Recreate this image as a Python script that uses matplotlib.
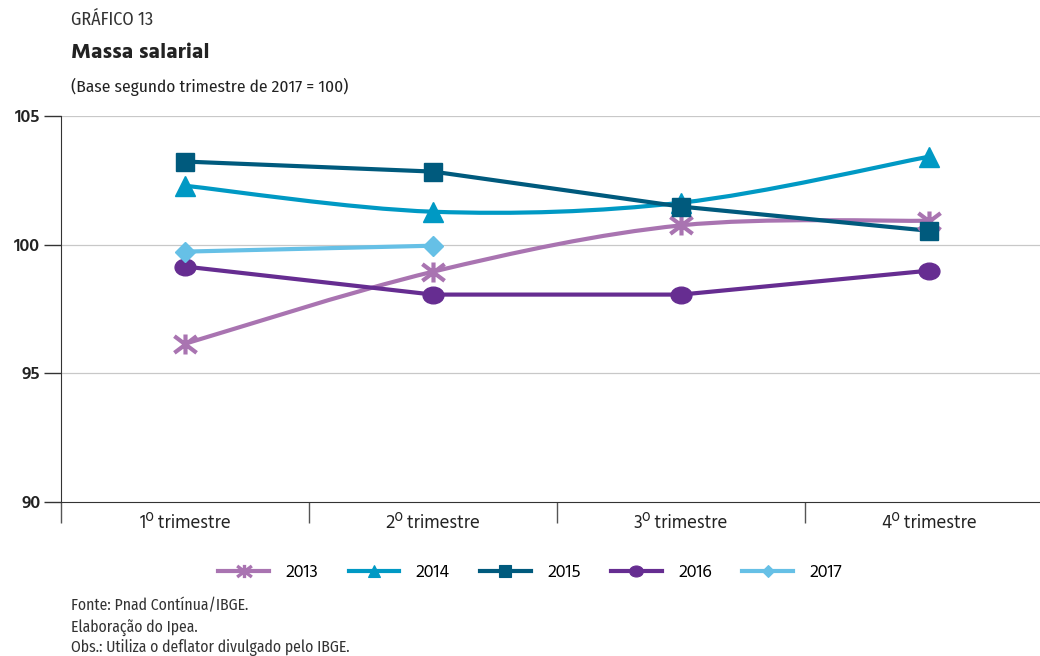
"""plot.py

Massa salarial (Base segundo trimestre de 2017 = 100).
"""

import matplotlib

matplotlib.use("Agg")
# flake8: noqa: E402
import matplotlib.pyplot as plt
import numpy as np
from matplotlib.path import Path
from matplotlib.patches import PathPatch

# Data
quarters = ["1º trimestre", "2º trimestre", "3º trimestre", "4º trimestre"]
years = ["2013", "2014", "2015", "2016", "2017"]
v2013 = [96.15, 98.95, 100.75, 100.93]
v2014 = [102.29, 101.28, 101.63, 103.42]
v2015 = [103.23, 102.84, 101.48, 100.54]
v2016 = [99.15, 98.06, 98.06, 98.99]
v2017 = [99.73, 99.96]
y_ticks = [90, 95, 100, 105]

series = [v2013, v2014, v2015, v2016, v2017]
colors = ["#a974b1", "#0099c4", "#005a7d", "#662d91", "#66c0e6"]
smoothed = [True, True, False, False, False]

# Custom markers: x with a vertical bar, and a flattened circle
star_marker = Path(
    [(-1, -0.75), (1, 0.75), (-1, 0.75), (1, -0.75), (0, -0.9), (0, 0.9)],
    [Path.MOVETO, Path.LINETO, Path.MOVETO, Path.LINETO, Path.MOVETO, Path.LINETO],
)
_c = Path.unit_circle()
ellipse_marker = Path(_c.vertices * np.array([1.0, 0.8]), _c.codes)

markers = [star_marker, "^", "s", ellipse_marker, "D"]
msizes = [16, 14, 13.5, 15, 10]
mews = [3, 1, 1, 1, 1]

NARROW = ["Fira Sans Condensed", "DejaVu Sans"]
REG = ["Hind", "DejaVu Sans"]


def line_path(xs, ys, smooth):
    """Straight polyline, or a Catmull-Rom smoothed curve as Bezier segments."""
    pts = list(zip(xs, ys))
    if not smooth:
        return Path(pts)
    n = len(pts)
    verts = [pts[0]]
    codes = [Path.MOVETO]
    for i in range(n - 1):
        p0 = pts[max(i - 1, 0)]
        p1 = pts[i]
        p2 = pts[i + 1]
        p3 = pts[min(i + 2, n - 1)]
        c1 = (p1[0] + (p2[0] - p0[0]) / 6, p1[1] + (p2[1] - p0[1]) / 6)
        c2 = (p2[0] - (p3[0] - p1[0]) / 6, p2[1] - (p3[1] - p1[1]) / 6)
        verts += [c1, c2, p2]
        codes += [Path.CURVE4] * 3
    return Path(verts, codes)


fig = plt.figure(figsize=(10.4, 6.56), dpi=100)
ax = fig.add_axes([61 / 1040, 1 - 502 / 656, 992 / 1040, 386 / 656])

for vals, col, mk, ms, mew, yr, sm in zip(
    series, colors, markers, msizes, mews, years, smoothed
):
    xs = list(range(len(vals)))
    ax.add_patch(
        PathPatch(line_path(xs, vals, sm), fill=False, edgecolor=col, lw=3,
                  zorder=3, capstyle="butt", joinstyle="round")
    )
    ax.plot(xs, vals, ls="none", marker=mk, ms=ms, color=col, mec=col, mew=mew,
            zorder=4)
    # legend proxy
    ax.plot([], [], color=col, lw=3, marker=mk, ms=ms * 0.66,
            mew=mew * 0.8, label=yr)

ax.set_xlim(-0.5, 3.5)
ax.set_ylim(90, 105)
ax.set_yticks(y_ticks)
ax.set_yticklabels([str(t) for t in y_ticks], fontsize=13, family=REG,
                   fontweight="semibold", color="#222222")
for t in y_ticks[1:]:
    ax.axhline(t, color="#c8c8c8", lw=0.9, zorder=1)

ax.set_xticks([-0.5, 0.5, 1.5, 2.5])
ax.set_xticklabels([])
ax.set_xticks([0, 1, 2, 3], minor=True)
ax.set_xticklabels(quarters, minor=True, fontsize=13.5, family=REG,
                   color="#222222")
ax.tick_params(axis="x", which="major", length=15, width=1, color="#555555")
ax.tick_params(axis="x", which="minor", length=0, pad=9)
ax.tick_params(axis="y", length=12, width=1, color="#333333", pad=3)

for s in ["top", "right"]:
    ax.spines[s].set_visible(False)
ax.spines["left"].set_color("#333333")
ax.spines["bottom"].set_color("#333333")

fig.legend(
    loc="center",
    bbox_to_anchor=(530 / 1040, 1 - 572 / 656),
    ncol=5,
    frameon=False,
    handlelength=2.8,
    columnspacing=1.7,
    handletextpad=0.9,
    prop={"family": REG, "size": 13},
)

fig.text(71 / 1040, 1 - 20 / 656, "GRÁFICO 13", family=NARROW, fontsize=13,
         color="#333333", va="center")
fig.text(71 / 1040, 1 - 53 / 656, "Massa salarial", family=REG, fontsize=16,
         fontweight="bold", color="#222222", va="center")
fig.text(71 / 1040, 1 - 87 / 656, "(Base segundo trimestre de 2017 = 100)",
         family=NARROW, fontsize=12.5, color="#222222", va="center")
notes = [
    "Fonte: Pnad Contínua/IBGE.",
    "Elaboração do Ipea.",
    "Obs.: Utiliza o deflator divulgado pelo IBGE.",
]
for i, line in enumerate(notes):
    fig.text(71 / 1040, 1 - (606 + 21 * i) / 656, line, family=NARROW,
             fontsize=11.3, color="#333333", va="center")

plt.savefig("out.png", dpi=100)
plt.close()
